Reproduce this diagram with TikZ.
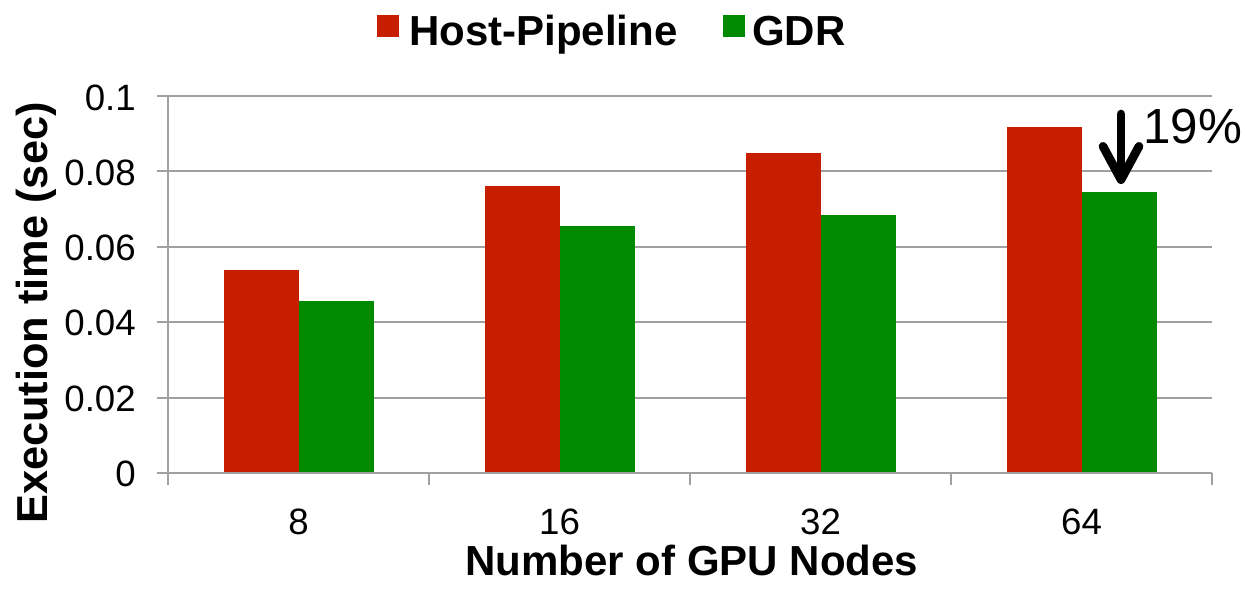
\documentclass[tikz,border=0pt]{standalone}
\usepackage{fontspec}
\setmainfont{Liberation Sans}
\usepackage{xcolor}
\usetikzlibrary{arrows.meta}

\definecolor{hostred}{RGB}{200,30,0}
\definecolor{gdrgreen}{RGB}{0,138,0}
\definecolor{gridgray}{RGB}{160,160,160}

\begin{document}
\begin{tikzpicture}[x=0.75pt,y=-0.75pt,
    gridline/.style={gridgray,line width=1.4pt},
    ticklabel/.style={inner sep=0pt,font=\fontsize{27.5}{30}\selectfont},
    axistitle/.style={inner sep=0pt,font=\fontsize{31.5}{34}\selectfont\bfseries}]
\useasboundingbox (0,0) rectangle (1245,596);

    % grid
    \draw[gridline] (157,96) -- (1212,96);
    \draw[gridline] (157,171.4) -- (1212,171.4);
    \draw[gridline] (157,246.8) -- (1212,246.8);
    \draw[gridline] (157,322.2) -- (1212,322.2);
    \draw[gridline] (157,397.6) -- (1212,397.6);

    % bars
    \fill[hostred] (223.5,473) rectangle (298.5,270);
    \fill[gdrgreen] (298.5,473) rectangle (373.5,301);
    \fill[hostred] (484.5,473) rectangle (559.5,186);
    \fill[gdrgreen] (559.5,473) rectangle (634.5,226);
    \fill[hostred] (745.5,473) rectangle (820.5,153);
    \fill[gdrgreen] (820.5,473) rectangle (895.5,215);
    \fill[hostred] (1006.5,473) rectangle (1081.5,127);
    \fill[gdrgreen] (1081.5,473) rectangle (1156.5,192);

    % axes
    \draw[gridline] (168,96) -- (168,485);
    \draw[gridline] (157,473) -- (1212,473);
    \draw[gridline] (429,473) -- (429,485);
    \draw[gridline] (690,473) -- (690,485);
    \draw[gridline] (951,473) -- (951,485);
    \draw[gridline] (1212,473) -- (1212,485);

    \node[ticklabel,anchor=base east] (y0) at (136,110) {0.1};
    \node[ticklabel,anchor=base east] (y1) at (136,185) {0.08};
    \node[ticklabel,anchor=base east] (y2) at (136,260.4) {0.06};
    \node[ticklabel,anchor=base east] (y3) at (136,335.8) {0.04};
    \node[ticklabel,anchor=base east] (y4) at (136,411.2) {0.02};
    \node[ticklabel,anchor=base east] (y5) at (136,486.6) {0};

    \node[ticklabel,anchor=base] (x8) at (298.5,534) {8};
    \node[ticklabel,anchor=base] (x16) at (559.5,534) {16};
    \node[ticklabel,anchor=base] (x32) at (820.5,534) {32};
    \node[ticklabel,anchor=base] (x64) at (1081.5,534) {64};

    \node[axistitle,anchor=base] (xtitle) at (692,575) {Number of GPU Nodes};
    \node[axistitle,anchor=base,rotate=90,font=\fontsize{32.5}{35}\selectfont\bfseries] (ytitle) at (47,313) {Execution time (sec)};

    % legend
    \fill[hostred] (377,15) rectangle (399,37);
    \node[axistitle,anchor=base west] (hostkey) at (409,45) {Host-Pipeline};
    \fill[gdrgreen] (723,15) rectangle (745,37);
    \node[axistitle,anchor=base west] (gdrkey) at (752,45) {GDR};

    % reduction
    \coordinate (arrtop) at (1121,114);
    \coordinate (arrtip) at (1121,184);
    \draw[black,line width=6.5pt,line cap=round,
        -{Straight Barb[length=25pt,width=27pt,round]}] (arrtop) -- (arrtip);
    \node[inner sep=0pt,anchor=base west,font=\fontsize{37}{40}\selectfont] (pct) at (1143,143) {19\%};

\end{tikzpicture}
\end{document}
